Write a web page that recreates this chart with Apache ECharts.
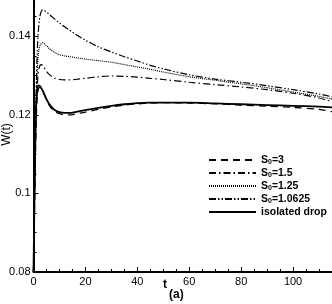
<!DOCTYPE html>
<html><head><meta charset="utf-8">
<script src="https://cdn.jsdelivr.net/npm/echarts@6/dist/echarts.min.js"></script>
<style>html,body{margin:0;padding:0;background:#fff}#c{width:332px;height:304px}</style>
</head><body><div id="c"></div>
<script>
const t = [0,0.5,1,1.5,2,2.5,3,3.5,4,5,6,8,10,12,14,16,20,25,30,35,40,45,50,60,70,80,90,100,110,115];
const s3 =    [0.08,0.100,0.118,0.125,0.1268,0.1270,0.1267,0.1262,0.1254,0.1238,0.1225,0.1209,0.1203,0.1200,0.1200,0.1202,0.1207,0.1214,0.1220,0.1225,0.1228,0.1230,0.1231,0.1230,0.1228,0.1225,0.1222,0.1219,0.1214,0.1208];
const s15 =   [0.08,0.103,0.120,0.128,0.1315,0.1326,0.1328,0.1326,0.1321,0.1311,0.1303,0.1294,0.1290,0.1289,0.1289,0.1290,0.1293,0.1297,0.1299,0.1298,0.1296,0.1293,0.1290,0.1283,0.1277,0.1271,0.1264,0.1255,0.1243,0.1233];
const s125 =  [0.08,0.104,0.123,0.132,0.1362,0.1376,0.1381,0.1383,0.1382,0.1376,0.1369,0.1359,0.1353,0.1350,0.1348,0.1346,0.1342,0.1338,0.1334,0.1328,0.1322,0.1316,0.1309,0.1297,0.1288,0.1279,0.1269,0.1258,0.1247,0.1240];
const s10625 =[0.08,0.105,0.125,0.137,0.1425,0.1452,0.1463,0.1467,0.1466,0.1462,0.1456,0.1445,0.1434,0.1424,0.1415,0.1406,0.1390,0.1373,0.1360,0.1348,0.1337,0.1326,0.1317,0.1302,0.1291,0.1283,0.1274,0.1264,0.1253,0.1246];
const iso =   [0.08,0.105,0.122,0.1268,0.1275,0.1273,0.1268,0.1262,0.1255,0.1240,0.1228,0.1213,0.1207,0.1205,0.1205,0.1207,0.1212,0.1218,0.1223,0.1227,0.1230,0.1231,0.1231,0.1231,0.1229,0.1227,0.1225,0.1223,0.1221,0.1219];
const names = ['S0=3','S0=1.5','S0=1.25','S0=1.0625','isolated drop'];
const xTicks = [0,20,40,60,80,100];
const yTicks = [0.08,0.1,0.12,0.14];

const pair = a => t.map((v,i)=>[v,a[i]]);
const styles = [
  {type:[7,5], width:1.3},
  {type:[7,3,1.5,3], width:1.2},
  {type:[1,1], width:1.2},
  {type:[7,2,1.5,2,1.5,2], width:1.2},
  {type:'solid', width:1.8}
];
const all = [s3,s15,s125,s10625,iso];
const chart = echarts.init(document.getElementById('c'));
const F = 'Liberation Sans, Arial, sans-serif';
chart.setOption({
  animation:false,
  grid:{left:33.5,right:0,top:-3,bottom:32,containLabel:false,outerBoundsMode:'none'},
  xAxis:{type:'value',min:0,max:115,interval:20,
    axisLine:{lineStyle:{color:'#000',width:2}},
    axisTick:{inside:true,length:5,lineStyle:{color:'#000',width:1}},
    minorTick:{show:true,splitNumber:4,length:3,lineStyle:{color:'#000',width:1}},
    splitLine:{show:false},
    axisLabel:{color:'#000',fontFamily:F,fontSize:11,margin:4,showMaxLabel:false,
      formatter:v=>xTicks.includes(v)?String(v):''}},
  yAxis:{type:'value',min:0.08,max:0.15,interval:0.02,
    name:'W(t)',nameLocation:'middle',nameGap:21,nameMoveOverlap:false,
    nameTextStyle:{color:'#000',fontFamily:F,fontSize:12},
    axisLine:{show:true,lineStyle:{color:'#000',width:2}},
    axisTick:{inside:true,length:5,lineStyle:{color:'#000',width:1}},
    minorTick:{show:true,splitNumber:4,length:3,lineStyle:{color:'#000',width:1}},
    splitLine:{show:false},
    axisLabel:{color:'#000',fontFamily:F,fontSize:11,margin:3,showMaxLabel:false,
      formatter:v=>{const r=yTicks.find(y=>Math.abs(y-v)<1e-9);return r===undefined?'':String(r);}}},
  legend:{orient:'vertical',left:203,top:149,itemWidth:47,itemHeight:8,itemGap:1,
    data:names,
    itemStyle:{color:'rgba(0,0,0,0)',borderWidth:0,opacity:0},
    textStyle:{color:'#000',fontFamily:F,fontSize:10.5,fontWeight:'bold',lineHeight:12,
      rich:{a:{fontFamily:F,fontSize:10.5,fontWeight:'bold',color:'#000',lineHeight:12},
            b:{fontFamily:F,fontSize:7,fontWeight:'bold',color:'#000',lineHeight:12,verticalAlign:'bottom'}}},
    formatter:n=>n.startsWith('S0')?'{a|S}{b|0}{a|'+n.slice(2)+'}':n},
  graphic:[
    {type:'text',left:163,top:279,style:{text:'t',font:'bold 12px '+F,fill:'#000'}},
    {type:'text',left:169,top:289,style:{text:'(a)',font:'bold 12px '+F,fill:'#000'}}
  ],
  series: all.map((a,i)=>({name:names[i],type:'line',data:pair(a),showSymbol:false,symbol:'none',smooth:0.3,
    itemStyle:{color:'#000'},
    lineStyle:{color:'#000',width:styles[i].width,type:styles[i].type}}))
});
</script></body></html>
